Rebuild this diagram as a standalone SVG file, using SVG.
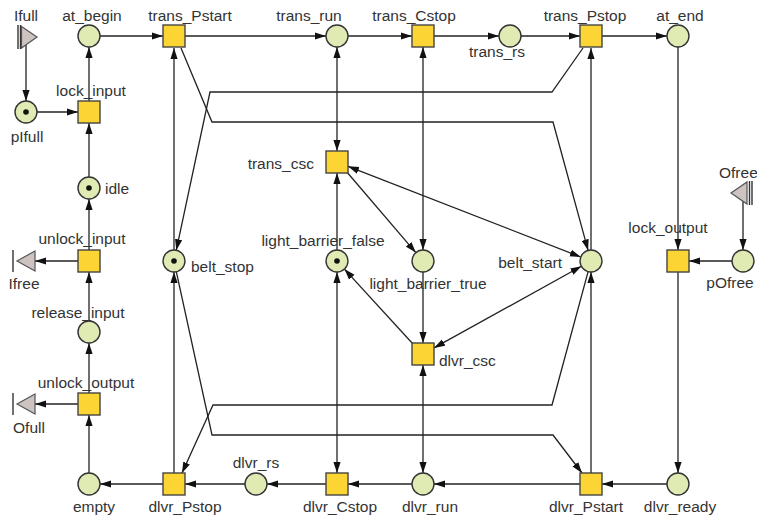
<svg xmlns="http://www.w3.org/2000/svg" width="757" height="517" viewBox="0 0 757 517">
  <style>
    .place { fill: #e0ebb4; stroke: #333; stroke-width: 1.4; }
    .trans { fill: #fcd535; stroke: #444; stroke-width: 1.4; }
    .token { fill: #111; }
    .port { fill: #cdc3c0; stroke: #555; stroke-width: 1.2; }
    .bar { stroke: #333; stroke-width: 1.4; }
    .arc { fill: none; stroke: #222; stroke-width: 1.3; }
    text { font-family: "Liberation Sans", Arial, sans-serif; font-size: 15.5px; fill: #333; }
    .m { text-anchor: middle; }
    .e { text-anchor: end; }
  </style>
  <defs>
    <marker id="ah" markerUnits="userSpaceOnUse" markerWidth="11" markerHeight="8" refX="11" refY="4" orient="auto-start-reverse" viewBox="0 0 11 8">
      <path d="M0,0.4 L11,4 L0,7.6 z" fill="#111"/>
    </marker>
  </defs>

  <!-- arcs -->
  <g id="connectors" class="arcs">
    <path class="arc" marker-end="url(#ah)" d="M26 45 V101"/>
    <path class="arc" marker-end="url(#ah)" d="M37 112 H78"/>
    <path class="arc" marker-end="url(#ah)" d="M89 101 V47"/>
    <path class="arc" marker-end="url(#ah)" d="M89 177 V123"/>
    <path class="arc" marker-end="url(#ah)" d="M89 250 V199"/>
    <path class="arc" marker-end="url(#ah)" d="M78 261 H35"/>
    <path class="arc" marker-end="url(#ah)" d="M89 321 V272"/>
    <path class="arc" marker-end="url(#ah)" d="M89 393 V343"/>
    <path class="arc" marker-end="url(#ah)" d="M78 404 H35"/>
    <path class="arc" marker-end="url(#ah)" d="M89 473 V415"/>
    <path class="arc" marker-end="url(#ah)" d="M163 484 H100"/>
    <path class="arc" marker-end="url(#ah)" d="M245 484 H185"/>
    <path class="arc" marker-end="url(#ah)" d="M326 484 H267"/>
    <path class="arc" marker-end="url(#ah)" d="M412 484 H348"/>
    <path class="arc" marker-end="url(#ah)" d="M580 484 H434"/>
    <path class="arc" marker-end="url(#ah)" d="M667 484 H602"/>
    <path class="arc" marker-end="url(#ah)" d="M100 36 H163"/>
    <path class="arc" marker-end="url(#ah)" d="M185 36 H326"/>
    <path class="arc" marker-end="url(#ah)" d="M348 36 H412"/>
    <path class="arc" marker-end="url(#ah)" d="M434 36 H499"/>
    <path class="arc" marker-end="url(#ah)" d="M521 36 H580"/>
    <path class="arc" marker-end="url(#ah)" d="M602 36 H667"/>
    <path class="arc" marker-end="url(#ah)" d="M678 47 V250"/>
    <path class="arc" marker-end="url(#ah)" d="M678 272 V473"/>
    <path class="arc" marker-end="url(#ah)" d="M743 201 V250"/>
    <path class="arc" marker-end="url(#ah)" d="M732 261 H689"/>
    <!-- read arcs (both directions) -->
    <path class="arc" marker-start="url(#ah)" marker-end="url(#ah)" d="M337 47 V151"/>
    <path class="arc" marker-start="url(#ah)" marker-end="url(#ah)" d="M337 272 V473"/>
    <path class="arc" marker-start="url(#ah)" marker-end="url(#ah)" d="M423 47 V250"/>
    <path class="arc" marker-start="url(#ah)" marker-end="url(#ah)" d="M423 365 V473"/>
    <path class="arc" marker-start="url(#ah)" marker-end="url(#ah)" d="M348 166.3 L580.8 257"/>
    <path class="arc" marker-start="url(#ah)" marker-end="url(#ah)" d="M434 347.9 L581.4 266.3"/>
    <!-- sensor arcs -->
    <path class="arc" marker-end="url(#ah)" d="M337 250 V173"/>
    <path class="arc" marker-end="url(#ah)" d="M423 272 V343"/>
    <path class="arc" marker-end="url(#ah)" d="M346 171 L415.8 252.6"/>
    <path class="arc" marker-end="url(#ah)" d="M413 344 L344.4 269.1"/>
    <!-- belt arcs -->
    <path class="arc" marker-end="url(#ah)" d="M174 250 V48"/>
    <path class="arc" marker-end="url(#ah)" d="M174 473 V272"/>
    <path class="arc" marker-end="url(#ah)" d="M591 473 V272"/>
    <path class="arc" marker-end="url(#ah)" d="M591 250 V48"/>
    <path class="arc" marker-end="url(#ah)" d="M181 48 L212 122 H553 L588.1 250.4"/>
    <path class="arc" marker-end="url(#ah)" d="M583 48 L552 92 H210 L176.3 250.2"/>
    <path class="arc" marker-end="url(#ah)" d="M588.1 271.6 L552 405 H213 L182 473"/>
    <path class="arc" marker-end="url(#ah)" d="M176.3 271.7 L212 435 H553 L582 473"/>
  </g>

  <!-- ports -->
  <g id="Ifull">
    <line class="bar" x1="18" y1="25" x2="18" y2="49"/>
    <line class="bar" x1="20.5" y1="25" x2="20.5" y2="49"/>
    <polygon class="port" points="21.5,26.5 37,37 21.5,48"/>
    <text class="m" x="26" y="21">Ifull</text>
  </g>
  <g id="Ifree">
    <line class="bar" x1="13" y1="250" x2="13" y2="272"/>
    <polygon class="port" points="17,261 35,251 35,271"/>
    <text class="m" x="24" y="289">Ifree</text>
  </g>
  <g id="Ofull">
    <line class="bar" x1="13" y1="393" x2="13" y2="415"/>
    <polygon class="port" points="17,404 35,394 35,414"/>
    <text class="m" x="29" y="433">Ofull</text>
  </g>
  <g id="Ofree">
    <polygon class="port" points="731,193 747,182 747,204"/>
    <line class="bar" x1="749.5" y1="181" x2="749.5" y2="205"/>
    <line class="bar" x1="752" y1="181" x2="752" y2="205"/>
    <text x="719" y="178">Ofree</text>
  </g>

  <!-- places -->
  <g id="at_begin"><circle class="place" cx="89" cy="36" r="11"/><text class="m" x="92" y="21">at_begin</text></g>
  <g id="pIfull"><circle class="place" cx="26" cy="112" r="11"/><circle class="token" cx="26" cy="112" r="2.8"/><text class="m" x="27" y="142">pIfull</text></g>
  <g id="idle"><circle class="place" cx="89" cy="188" r="11"/><circle class="token" cx="89" cy="188" r="2.8"/><text x="105" y="194">idle</text></g>
  <g id="release_input"><circle class="place" cx="89" cy="332" r="11"/><text class="m" x="78" y="318">release_input</text></g>
  <g id="empty"><circle class="place" cx="89" cy="484" r="11"/><text class="m" x="94" y="512">empty</text></g>
  <g id="belt_stop"><circle class="place" cx="174" cy="261" r="11"/><circle class="token" cx="174" cy="261" r="2.8"/><text x="191" y="272">belt_stop</text></g>
  <g id="trans_run"><circle class="place" cx="337" cy="36" r="11"/><text class="m" x="309" y="21">trans_run</text></g>
  <g id="trans_rs"><circle class="place" cx="510" cy="36" r="11"/><text class="m" x="497" y="57">trans_rs</text></g>
  <g id="at_end"><circle class="place" cx="678" cy="36" r="11"/><text class="m" x="680" y="21">at_end</text></g>
  <g id="light_barrier_false"><circle class="place" cx="337" cy="261" r="11"/><circle class="token" cx="337" cy="261" r="2.8"/><text class="m" x="323" y="246">light_barrier_false</text></g>
  <g id="light_barrier_true"><circle class="place" cx="423" cy="261" r="11"/><text class="m" x="428" y="289">light_barrier_true</text></g>
  <g id="belt_start"><circle class="place" cx="591" cy="261" r="11"/><text class="e" x="562" y="268">belt_start</text></g>
  <g id="pOfree"><circle class="place" cx="743" cy="261" r="11"/><text class="m" x="730" y="288">pOfree</text></g>
  <g id="dlvr_rs"><circle class="place" cx="256" cy="484" r="11"/><text class="m" x="256" y="468">dlvr_rs</text></g>
  <g id="dlvr_run"><circle class="place" cx="423" cy="484" r="11"/><text class="m" x="430" y="512">dlvr_run</text></g>
  <g id="dlvr_ready"><circle class="place" cx="678" cy="484" r="11"/><text class="m" x="680" y="512">dlvr_ready</text></g>

  <!-- transitions -->
  <g id="trans_Pstart"><rect class="trans" x="163" y="25" width="22" height="22"/><text class="m" x="190" y="21">trans_Pstart</text></g>
  <g id="trans_Cstop"><rect class="trans" x="412" y="25" width="22" height="22"/><text class="m" x="414" y="21">trans_Cstop</text></g>
  <g id="trans_Pstop"><rect class="trans" x="580" y="25" width="22" height="22"/><text class="m" x="585" y="21">trans_Pstop</text></g>
  <g id="lock_input"><rect class="trans" x="78" y="101" width="22" height="22"/><text class="m" x="91" y="96">lock_input</text></g>
  <g id="unlock_input"><rect class="trans" x="78" y="250" width="22" height="22"/><text class="m" x="82" y="244">unlock_input</text></g>
  <g id="unlock_output"><rect class="trans" x="78" y="393" width="22" height="22"/><text class="m" x="86" y="388">unlock_output</text></g>
  <g id="trans_csc"><rect class="trans" x="326" y="151" width="22" height="22"/><text class="e" x="314" y="169">trans_csc</text></g>
  <g id="dlvr_csc"><rect class="trans" x="412" y="343" width="22" height="22"/><text x="439" y="366">dlvr_csc</text></g>
  <g id="lock_output"><rect class="trans" x="667" y="250" width="22" height="22"/><text class="m" x="668" y="233">lock_output</text></g>
  <g id="dlvr_Pstop"><rect class="trans" x="163" y="473" width="22" height="22"/><text class="m" x="185" y="512">dlvr_Pstop</text></g>
  <g id="dlvr_Cstop"><rect class="trans" x="326" y="473" width="22" height="22"/><text class="m" x="340" y="512">dlvr_Cstop</text></g>
  <g id="dlvr_Pstart"><rect class="trans" x="580" y="473" width="22" height="22"/><text class="m" x="586" y="512">dlvr_Pstart</text></g>
</svg>
